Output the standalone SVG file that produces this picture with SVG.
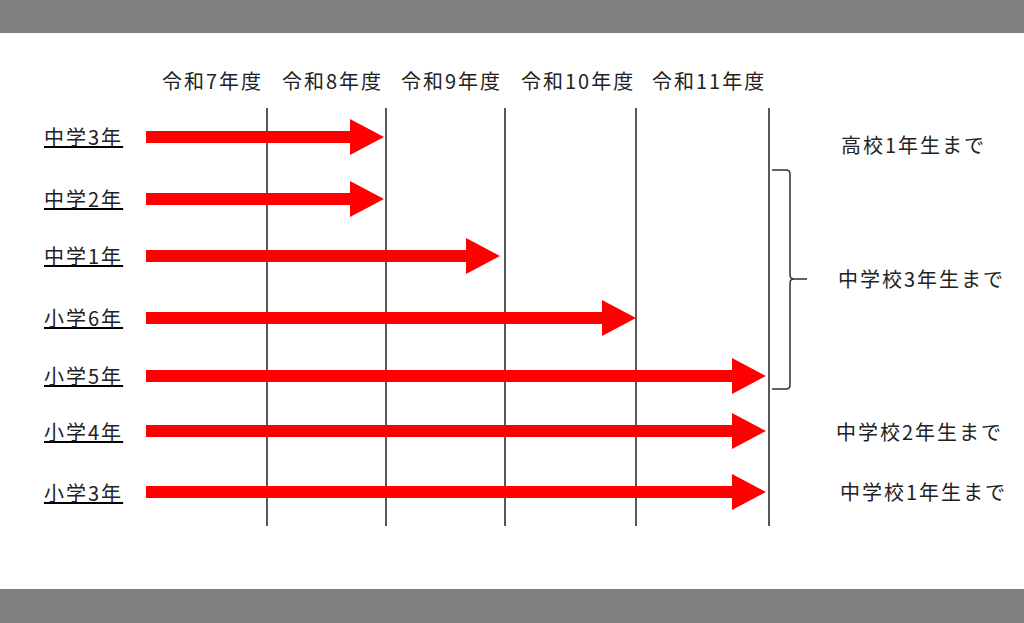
<svg xmlns="http://www.w3.org/2000/svg" width="1024" height="623" viewBox="0 0 1024 623">
<style>
text{font-family:"Noto Sans CJK JP","Liberation Sans",sans-serif;font-size:20px;letter-spacing:2px;fill:#222}
.lb{text-decoration:underline}
.rt{fill:#444}
.vl{stroke:#222;stroke-width:1.5}
.ar{fill:#f00}
</style>
<rect width="1024" height="623" fill="#fff"/>
<rect width="1024" height="33" fill="#808080"/>
<rect y="589" width="1024" height="34" fill="#808080"/>
<g id="headers">
<text x="162" y="89">令和7年度</text>
<text x="282" y="89">令和8年度</text>
<text x="401" y="89">令和9年度</text>
<text x="521" y="89">令和10年度</text>
<text x="652" y="89">令和11年度</text>
</g>
<g id="grid">
<line class="vl" x1="267" y1="108" x2="267" y2="526"/>
<line class="vl" x1="386" y1="108" x2="386" y2="526"/>
<line class="vl" x1="505" y1="108" x2="505" y2="526"/>
<line class="vl" x1="636" y1="108" x2="636" y2="526"/>
<line class="vl" x1="769" y1="108" x2="769" y2="526"/>
</g>
<g id="labels" class="lb">
<text x="44" y="145">中学3年</text>
<text x="44" y="207">中学2年</text>
<text x="44" y="264">中学1年</text>
<text x="44" y="326">小学6年</text>
<text x="44" y="384">小学5年</text>
<text x="44" y="440">小学4年</text>
<text x="44" y="501">小学3年</text>
</g>
<g id="connectors" class="ar">
<path d="M146 131H350V119L384 137L350 155V143H146Z"/>
<path d="M146 193H350V181L384 199L350 217V205H146Z"/>
<path d="M146 250H466V238L500 256L466 274V262H146Z"/>
<path d="M146 312H602V300L636 318L602 336V324H146Z"/>
<path d="M146 370H732V358L766 376L732 394V382H146Z"/>
<path d="M146 425H732V413L766 431L732 449V437H146Z"/>
<path d="M146 486H732V474L766 492L732 510V498H146Z"/>
</g>
<g id="bracket">
<path d="M772 170H786Q790 170 790 174V275Q790 279 794 279H807M794 279Q790 279 790 283V385Q790 389 786 389H772" fill="none" stroke="#333" stroke-width="1.5"/>
</g>
<g id="right" class="rt">
<text x="841" y="153">高校1年生まで</text>
<text x="838" y="287">中学校3年生まで</text>
<text x="836" y="440">中学校2年生まで</text>
<text x="840" y="500">中学校1年生まで</text>
</g>
</svg>
